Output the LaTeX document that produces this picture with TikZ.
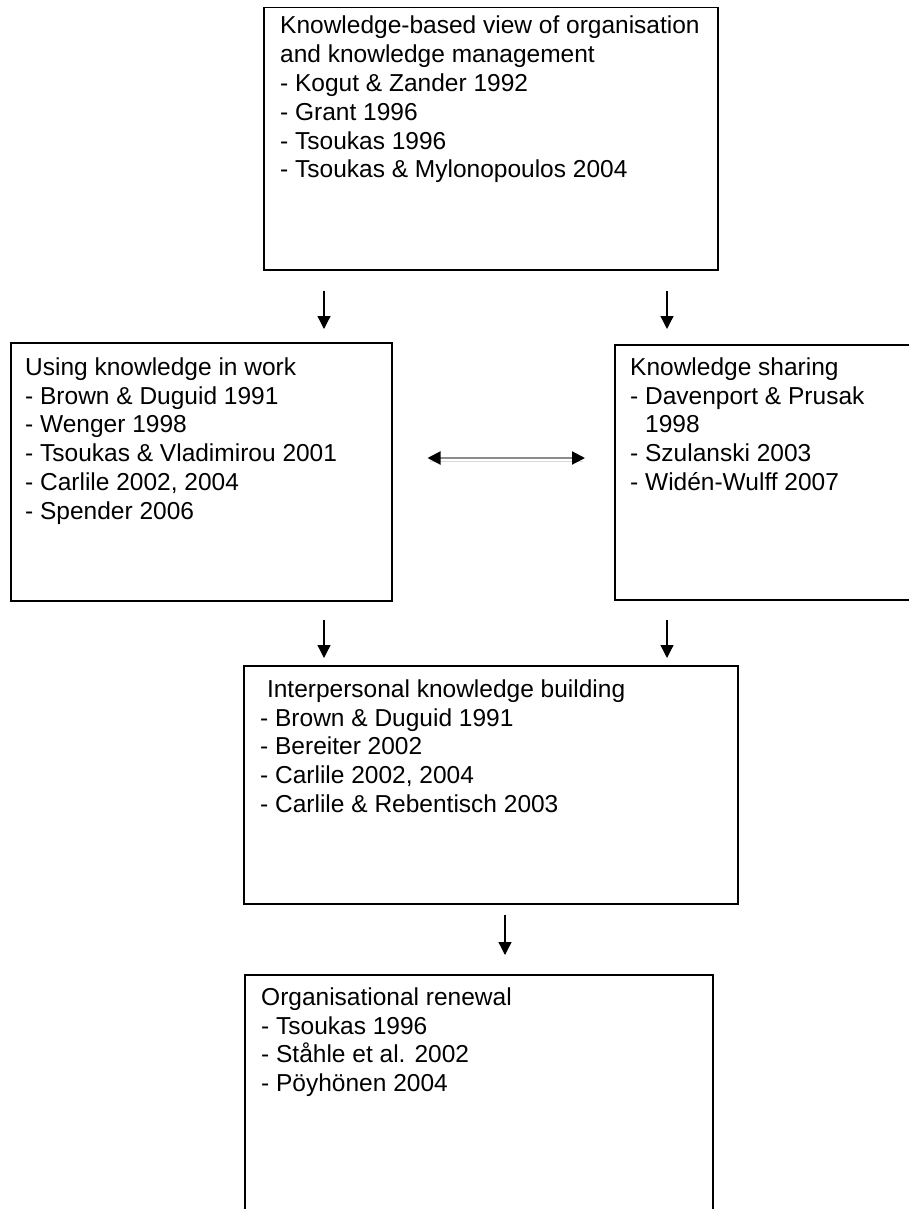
\documentclass[tikz,border=0pt]{standalone}
\usepackage{fontspec}
\setmainfont{Liberation Sans}
\usetikzlibrary{arrows.meta}
\begin{document}
\begin{tikzpicture}[x=1pt,y=-1pt,
  frame/.style={draw=black, line width=1.5pt, inner sep=0pt, anchor=north west},
  label/.style={anchor=north west, inner sep=0pt, align=left,
    font=\fontsize{24.5}{28.8}\selectfont},
  flow/.style={line width=1.3pt, -{Triangle[width=13pt,length=13pt]}},
  linktip/.tip={Triangle[width=13pt,length=13pt,color=black]},
]
\useasboundingbox (0,0) rectangle (909,1209);
\clip (0,0) rectangle (909,1209);

% boxes
\node[frame, minimum width=454pt, minimum height=262pt] (kbv)   at (263,7)   {};
\node[frame, minimum width=381pt, minimum height=258pt] (use)   at (10,342)  {};
\node[frame, minimum width=326pt, minimum height=255pt] (share) at (614,344) {};
\node[frame, minimum width=494pt, minimum height=238pt] (ikb)   at (243,665) {};
\node[frame, minimum width=468pt, minimum height=266pt] (renew) at (244,974) {};

% box texts
\node[label] (kbvtext) at (280,13.5) {\strut Knowledge-based view of organisation\\
  and knowledge management\\
  - Kogut \& Zander 1992\\
  - Grant 1996\\
  - Tsoukas 1996\\
  - Tsoukas \& Mylonopoulos 2004};
\node[label] (usetext) at (25,355) {\strut Using knowledge in work\\
  - Brown \& Duguid 1991\\
  - Wenger 1998\\
  - Tsoukas \& Vladimirou 2001\\
  - Carlile 2002, 2004\\
  - Spender 2006};
\node[label] (sharetext) at (630,355) {\strut Knowledge sharing\\
  - Davenport \& Prusak\\
  \hphantom{- }1998\\
  - Szulanski 2003\\
  - Widén-Wulff 2007};
\node[label] (ikbtext) at (260,677) {\strut\hspace*{0.278em}Interpersonal knowledge building\\
  - Brown \& Duguid 1991\\
  - Bereiter 2002\\
  - Carlile 2002, 2004\\
  - Carlile \& Rebentisch 2003};
\node[label] (renewtext) at (261,985) {\strut Organisational renewal\\
  - Tsoukas 1996\\
  - Ståhle et al. 2002\\
  - Pöyhönen 2004};

% flow arrows
\draw[flow, shorten <=20pt, shorten >=13pt] (kbv.south -| 324,0) -- (use.north -| 324,0);
\draw[flow, shorten <=20pt, shorten >=15pt] (kbv.south -| 667,0) -- (share.north -| 667,0);
\draw[flow, shorten <=18pt, shorten >=7pt] (use.south -| 324,0) -- (ikb.north -| 324,0);
\draw[flow, shorten <=19pt, shorten >=7pt] (share.south -| 667,0) -- (ikb.north -| 667,0);
\draw[flow, shorten <=10pt, shorten >=19pt] (ikb.south -| 505,0) -- (renew.north -| 505,0);

% two-way link between the middle boxes
\draw[line width=1pt, black!15, shorten <=37pt, shorten >=31pt]
  (use.east |- 0,461) -- (share.west |- 0,461);
\draw[line width=2pt, black!45, shorten <=35pt, shorten >=29pt, linktip-linktip]
  (use.east |- 0,458) -- (share.west |- 0,458);
\end{tikzpicture}
\end{document}
